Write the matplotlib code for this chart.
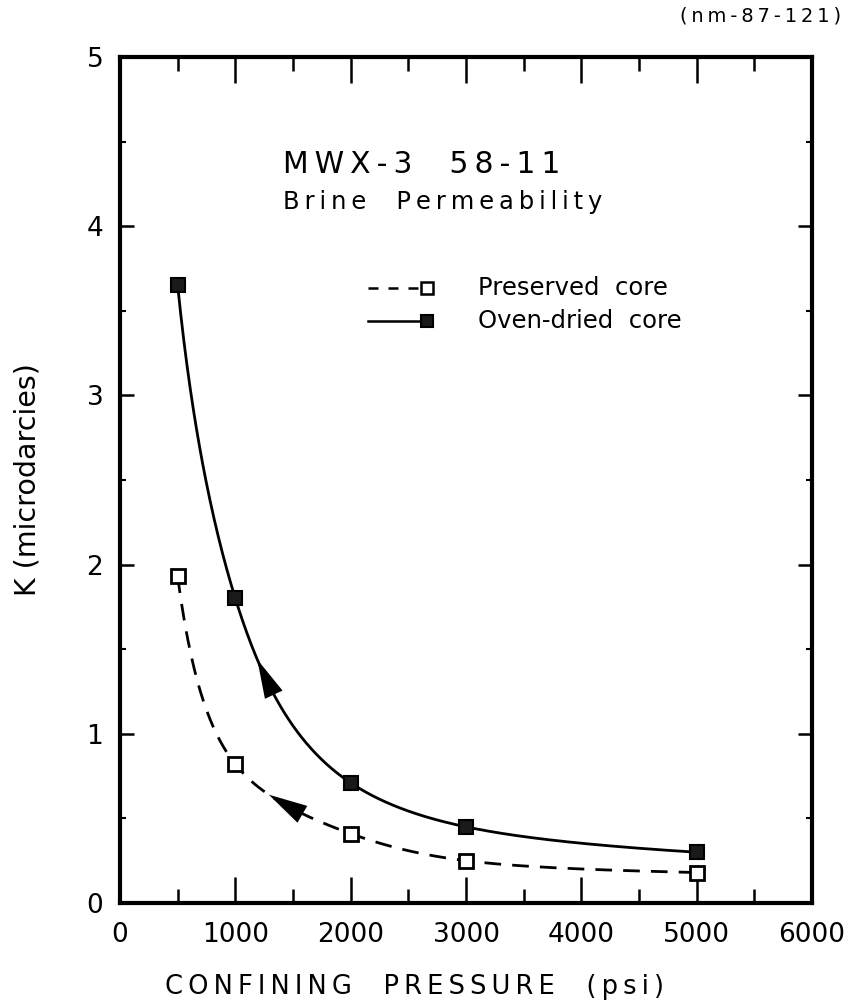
import numpy as np
import matplotlib
matplotlib.use("Agg")
import matplotlib.pyplot as plt
from matplotlib.ticker import MultipleLocator

# ---- data ----
pressure = [500, 1000, 2000, 3000, 5000]
preserved_k = [1.93, 0.82, 0.41, 0.25, 0.18]
oven_k = [3.65, 1.80, 0.71, 0.45, 0.30]

x_ticks = [0, 1000, 2000, 3000, 4000, 5000, 6000]
y_ticks = [0, 1, 2, 3, 4, 5]

title1 = "MWX-3  58-11"
title2 = "Brine  Permeability"
corner = "(nm-87-121)"
lab_pres = "Preserved  core"
lab_oven = "Oven-dried  core"
x_label = "CONFINING  PRESSURE  (psi)"
y_label = "K (microdarcies)"

TS = "\u2009"


def spaced(s):
    return TS.join(s)


def natural_spline(x, y, xs):
    x = np.asarray(x, float); y = np.asarray(y, float)
    n = len(x); h = np.diff(x)
    A = np.zeros((n, n)); b = np.zeros(n)
    A[0, 0] = 1; A[-1, -1] = 1
    for i in range(1, n - 1):
        A[i, i - 1] = h[i - 1]; A[i, i] = 2 * (h[i - 1] + h[i]); A[i, i + 1] = h[i]
        b[i] = 3 * ((y[i + 1] - y[i]) / h[i] - (y[i] - y[i - 1]) / h[i - 1])
    c = np.linalg.solve(A, b)
    bb = (y[1:] - y[:-1]) / h - h * (2 * c[:-1] + c[1:]) / 3
    d = (c[1:] - c[:-1]) / (3 * h)
    xs = np.asarray(xs, float)
    idx = np.clip(np.searchsorted(x, xs) - 1, 0, n - 2)
    t = xs - x[idx]
    return y[idx] + bb[idx] * t + c[idx] * t**2 + d[idx] * t**3


def curve(xd, yd, xs):
    return np.exp(natural_spline(np.log(xd), np.log(yd), np.log(xs)))


fig = plt.figure(figsize=(8.59, 10.06), dpi=100)
ax = fig.add_axes([0.1397, 0.1024, 0.8056, 0.8409])

xs = np.linspace(pressure[0], pressure[-1], 500)
ax.plot(xs, curve(pressure, oven_k, xs), color="black", lw=2.0, zorder=2)
ax.plot(xs, curve(pressure, preserved_k, xs), color="black", lw=2.0,
        dashes=(6, 4), zorder=2)

ax.plot(pressure, oven_k, ls="none", marker="s", ms=10, mfc="#1a1a1a",
        mec="black", mew=1.5, zorder=3)
ax.plot(pressure, preserved_k, ls="none", marker="s", ms=10, mfc="white",
        mec="black", mew=2.0, zorder=3)

# direction arrows along curves
for xa, xb, yy in [(1320, 1190, oven_k), (1520, 1290, preserved_k)]:
    ya, yb = curve(pressure, yy, [xa, xb])
    ax.annotate("", xy=(xb, yb), xytext=(xa, ya),
                arrowprops=dict(arrowstyle="-|>,head_length=1.4,head_width=0.35",
                                color="black", lw=0, mutation_scale=20,
                                shrinkA=0, shrinkB=0), zorder=4)

ax.set_xlim(0, 6000)
ax.set_ylim(0, 5)
ax.set_xticks(x_ticks)
ax.set_yticks(y_ticks)
ax.xaxis.set_minor_locator(MultipleLocator(500))
ax.yaxis.set_minor_locator(MultipleLocator(0.5))
ax.set_xticklabels([str(v) for v in x_ticks])
ax.set_yticklabels([str(v) for v in y_ticks])

for s in ax.spines.values():
    s.set_linewidth(3.0)

ax.tick_params(axis="x", which="major", direction="in", length=19, width=1.8,
               top=True, labelsize=19, pad=14)
ax.tick_params(axis="x", which="minor", direction="in", length=10, width=1.8,
               top=True)
ax.tick_params(axis="y", which="major", direction="in", length=10, width=1.8,
               right=True, labelsize=19, pad=12)
ax.tick_params(axis="y", which="minor", direction="in", length=4, width=1.5,
               right=True)

ax.set_xlabel(spaced(x_label), fontsize=18.5)
ax.xaxis.set_label_coords(0.425, -0.084)
ax.set_ylabel(y_label, fontsize=20.5)
ax.yaxis.set_label_coords(-0.114, 0.5)

ax.text(0.235, 0.873, spaced(title1), transform=ax.transAxes, fontsize=21.5,
        ha="left", va="center")
ax.text(0.235, 0.829, spaced(title2), transform=ax.transAxes, fontsize=17.5,
        ha="left", va="center")
fig.text(0.979, 0.984, spaced(corner), fontsize=14, ha="right", va="center")

# legend drawn manually in axes coordinates
ax.plot([0.358, 0.43], [0.727, 0.727], transform=ax.transAxes, color="black",
        lw=1.8, dashes=(4, 4))
ax.plot([0.443], [0.727], transform=ax.transAxes, marker="s", ms=9,
        mfc="white", mec="black", mew=1.8)
ax.text(0.518, 0.727, lab_pres, transform=ax.transAxes, fontsize=17.5,
        ha="left", va="center")
ax.plot([0.358, 0.435], [0.688, 0.688], transform=ax.transAxes, color="black",
        lw=1.8)
ax.plot([0.443], [0.688], transform=ax.transAxes, marker="s", ms=9,
        mfc="#1a1a1a", mec="black", mew=1.5)
ax.text(0.518, 0.688, lab_oven, transform=ax.transAxes, fontsize=17.5,
        ha="left", va="center")

fig.savefig("out.png", dpi=100)
